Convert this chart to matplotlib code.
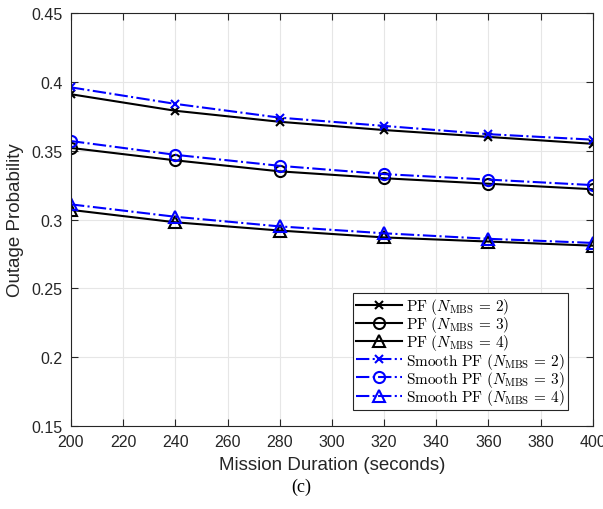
import matplotlib
matplotlib.use('Agg')
import matplotlib.pyplot as plt

# datos
duracion = [200, 240, 280, 320, 360, 400]
pf_2 = [0.391, 0.379, 0.371, 0.365, 0.360, 0.355]
pf_3 = [0.352, 0.343, 0.335, 0.330, 0.326, 0.322]
pf_4 = [0.307, 0.298, 0.292, 0.287, 0.284, 0.281]
smooth_2 = [0.396, 0.384, 0.374, 0.368, 0.362, 0.358]
smooth_3 = [0.357, 0.347, 0.339, 0.333, 0.329, 0.325]
smooth_4 = [0.311, 0.302, 0.295, 0.290, 0.286, 0.283]

plt.rcParams['font.family'] = ['Liberation Sans', 'DejaVu Sans']
plt.rcParams['mathtext.fontset'] = 'cm'

fig = plt.figure(figsize=(6.03, 5.10), dpi=100)
ax = fig.add_axes([0.1177, 0.1627, 0.8653, 0.8098])

ax.plot(duracion, pf_2, 'k-x', lw=1.5, ms=6, mew=1.5, label=r'$\mathrm{PF}\ (N_{\rm MBS}\,=\,2)$')
ax.plot(duracion, pf_3, 'k-o', lw=1.5, ms=8, mew=1.5, mfc='none', label=r'$\mathrm{PF}\ (N_{\rm MBS}\,=\,3)$')
ax.plot(duracion, pf_4, 'k-^', lw=1.5, ms=8, mew=1.5, mfc='none', label=r'$\mathrm{PF}\ (N_{\rm MBS}\,=\,4)$')
ax.plot(duracion, smooth_2, color='b', ls='-.', marker='x', lw=1.5, ms=6, mew=1.5,
        label=r'$\mathrm{Smooth\ PF}\ (N_{\rm MBS}\,=\,2)$')
ax.plot(duracion, smooth_3, color='b', ls='-.', marker='o', lw=1.5, ms=8, mew=1.5, mfc='none',
        label=r'$\mathrm{Smooth\ PF}\ (N_{\rm MBS}\,=\,3)$')
ax.plot(duracion, smooth_4, color='b', ls='-.', marker='^', lw=1.5, ms=8, mew=1.5, mfc='none',
        label=r'$\mathrm{Smooth\ PF}\ (N_{\rm MBS}\,=\,4)$')

ax.set_xlim(200, 400)
ax.set_ylim(0.15, 0.45)
ax.set_xticks(range(200, 401, 20))
ax.set_yticks([0.15, 0.2, 0.25, 0.3, 0.35, 0.4, 0.45])
ax.set_yticklabels(['0.15', '0.2', '0.25', '0.3', '0.35', '0.4', '0.45'])
ax.grid(True, color='#e6e6e6', lw=0.8)
ax.set_axisbelow(True)
ax.tick_params(direction='in', top=True, right=True, labelsize=11.5, colors='#262626', length=5)
ax.tick_params(axis='x', pad=6)
ax.tick_params(axis='y', pad=6)
for s in ax.spines.values():
    s.set_color('#262626')
    s.set_linewidth(0.8)

ax.set_xlabel('Mission Duration (seconds)', fontsize=13.5, color='#262626', labelpad=5)
ax.set_ylabel('Outage Probability', fontsize=13.5, color='#262626', labelpad=5)

leg = ax.legend(loc='lower right', bbox_to_anchor=(0.952, 0.039), borderaxespad=0,
                prop={'size': 11},
                fancybox=False, edgecolor='#262626', framealpha=1,
                handlelength=3.0, handletextpad=0.25, labelspacing=-0.12, borderpad=0.2)
leg.get_frame().set_linewidth(0.8)

fig.text(0.5, 0.045, '(c)', ha='center', va='center', fontsize=13, family='Liberation Serif')

fig.savefig('out.png', dpi=100)
